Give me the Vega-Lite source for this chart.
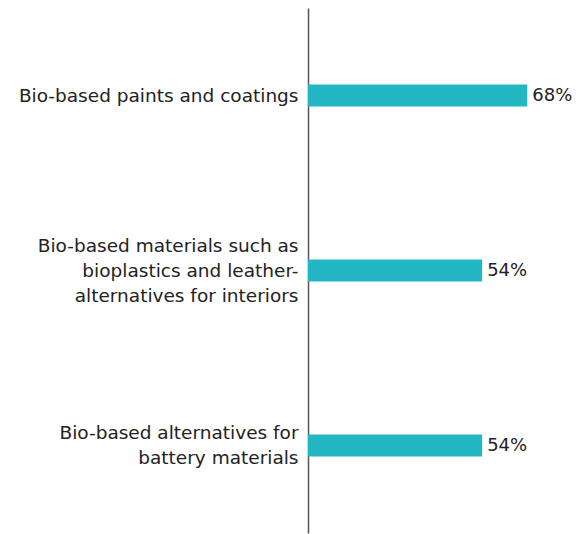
{
  "$schema": "https://vega.github.io/schema/vega-lite/v6.json",
  "width": 258,
  "height": 525,
  "autosize": {"type": "none"},
  "padding": {"left": 308, "top": 8, "right": 10, "bottom": 1},
  "background": "white",
  "data": {
    "values": [
      {"item": "Bio-based paints and coatings", "value": 68, "label": "68%"},
      {"item": "Bio-based materials such as|bioplastics and leather-|alternatives for interiors", "value": 54, "label": "54%"},
      {"item": "Bio-based alternatives for|battery materials", "value": 54, "label": "54%"}
    ]
  },
  "encoding": {
    "y": {
      "field": "item",
      "type": "nominal",
      "sort": null,
      "scale": {"paddingInner": 0.874, "paddingOuter": 0.437},
      "axis": {
        "title": null,
        "ticks": false,
        "domainColor": "#555555",
        "domainWidth": 1.5,
        "labelExpr": "split(datum.label, '|')",
        "labelFont": "DejaVu Sans",
        "labelFontSize": 18.5,
        "labelColor": "#222222",
        "labelPadding": 10,
        "labelLineHeight": 25,
        "labelLimit": 400,
        "labelOffset": {
          "condition": [
            {"test": "indexof(datum.value, 'interiors') >= 0", "value": -25},
            {"test": "indexof(datum.value, 'battery') >= 0", "value": -12.5}
          ],
          "value": 0
        }
      }
    },
    "x": {
      "field": "value",
      "type": "quantitative",
      "scale": {"domain": [0, 80]},
      "axis": null
    }
  },
  "layer": [
    {"mark": {"type": "bar", "color": "#23b7c4"}},
    {
      "mark": {"type": "text", "align": "left", "dx": 5, "font": "DejaVu Sans", "fontSize": 18, "color": "#222222"},
      "encoding": {"text": {"field": "label", "type": "nominal"}}
    }
  ],
  "config": {"view": {"stroke": null}}
}
